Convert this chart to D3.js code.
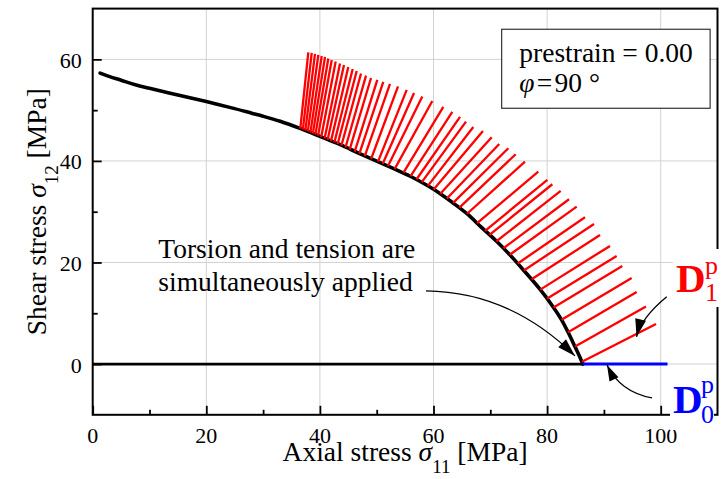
<!DOCTYPE html>
<html>
<head>
<meta charset="utf-8">
<script src="https://cdn.jsdelivr.net/npm/d3@7"></script>
<style>
  body { margin: 0; background: #fff; }
  svg { display: block; font-family: "Liberation Serif", "Times New Roman", serif; }
</style>
</head>
<body>
<svg id="chart" width="722" height="479"></svg>
<script>
const SERIF = '"Liberation Serif", "Times New Roman", serif';

// Axis ticks
const xMajor = [0, 20, 40, 60, 80, 100];
const xMinor = [10, 30, 50, 70, 90];
const yMajor = [0, 20, 40, 60];
const yMinor = [10, 30, 50];

// Yield curve under combined torsion and tension (sigma11, sigma12) [MPa]
const curveX = [1.3, 3, 5, 7.5, 10, 15, 20, 25, 28, 30, 33, 36.5, 40.0, 43.5, 47.0, 50.2, 53.2, 56.0, 59.0, 61.2, 63.4, 65.9, 68.4, 71.1, 73.4, 75.9, 78.8, 81.1, 82.5, 83.7, 84.9, 85.7, 86.3];
const curveY = [57.3, 56.6, 55.9, 55.0, 54.3, 53.0, 51.7, 50.3, 49.4, 48.8, 47.8, 46.4, 44.85, 43.25, 41.45, 39.87, 38.38, 36.93, 35.1, 33.55, 31.77, 29.6, 26.97, 24.17, 21.55, 18.43, 14.65, 11.2, 8.8, 6.25, 3.45, 1.55, 0.0];

// Pure tension loading path and the D0 direction
const tensionX = [0, 86.3];
const tensionY = [0, 0];
const d0X = [86.3, 101.2];
const d0Y = [0, 0];

// Plastic strain rate directions D1 (start on curve, end of segment)
const d1StartX = [36.55, 37.00, 37.43, 37.87, 38.33, 38.76, 39.21, 39.68, 40.23, 40.83, 41.36, 41.95, 42.55, 43.13, 43.79, 44.51, 45.25, 46.13, 46.95, 47.90, 49.03, 50.23, 51.06, 51.99, 53.17, 54.72, 55.97, 57.02, 57.94, 59.01, 60.02, 61.21, 62.36, 63.45, 64.56, 65.91, 67.68, 69.08, 69.86, 71.09, 72.32, 73.43, 74.84, 75.91, 77.27, 78.79, 80.02, 81.14, 82.54, 83.69, 84.92, 86.14];
const d1StartY = [46.38, 46.18, 45.98, 45.79, 45.57, 45.37, 45.17, 44.98, 44.72, 44.43, 44.19, 43.90, 43.62, 43.34, 43.03, 42.65, 42.28, 41.83, 41.43, 40.96, 40.43, 39.86, 39.46, 39.01, 38.44, 37.69, 37.00, 36.39, 35.82, 35.09, 34.36, 33.54, 32.61, 31.73, 30.80, 29.60, 27.75, 26.23, 25.42, 24.18, 22.80, 21.52, 19.81, 18.43, 16.68, 14.65, 12.91, 11.15, 8.72, 6.26, 3.43, 0.46];
const d1EndX = [37.96, 38.56, 39.14, 39.72, 40.32, 40.90, 41.48, 42.08, 42.78, 43.54, 44.24, 45.00, 45.77, 46.48, 47.24, 48.12, 49.00, 50.11, 51.16, 52.34, 53.75, 55.28, 56.57, 58.03, 59.79, 61.73, 63.31, 64.67, 65.72, 67.01, 68.71, 70.25, 71.58, 73.17, 74.47, 76.11, 78.45, 80.04, 80.92, 82.39, 83.86, 85.21, 86.67, 88.26, 89.31, 91.07, 92.25, 93.24, 94.89, 95.77, 97.41, 99.17];
const d1EndY = [61.40, 61.26, 61.07, 60.87, 60.67, 60.48, 60.18, 59.89, 59.59, 59.20, 58.90, 58.51, 58.11, 57.72, 57.23, 56.79, 56.34, 55.95, 55.55, 55.16, 54.67, 53.98, 53.39, 52.70, 51.81, 50.63, 49.65, 48.66, 47.74, 46.69, 45.90, 44.66, 43.34, 42.50, 41.32, 39.86, 37.89, 36.25, 35.41, 34.09, 32.45, 31.00, 28.91, 27.59, 25.42, 23.26, 21.29, 19.32, 16.96, 14.20, 11.34, 7.90];

// Annotation text and arrows (data coordinates: start, control, tip)
const noteLines = ["Torsion and tension are", "simultaneously applied"];
const noteX = 11.55;
const noteY = [20.93, 14.36];
const noteArrow = [[58.68, 14.40], [73.47, 14.20], [84.91, 1.60]];
const d1Arrow = [[101.06, 13.27], [96.53, 9.08], [95.74, 5.34]];
const d0Arrow = [[98.47, -6.68], [92.84, -5.48], [90.55, -0.18]];

// Condition box
const boxX = [72.0, 108.7];
const boxY = [65.93, 50.37];
const boxTextX = 75.1;
const boxTextY = [59.49, 53.49];

const svg = d3.select("#chart");
const x = d3.scaleLinear().domain([0, 110]).range([92.7, 717.5]);
const y = d3.scaleLinear().domain([-10, 70]).range([414.8, 8.6]);

// Grid
svg.append("g").selectAll("line").data(xMajor.filter(v => v > 0)).join("line")
  .attr("x1", d => x(d)).attr("x2", d => x(d))
  .attr("y1", y(-10)).attr("y2", y(70))
  .attr("stroke", "#d2d2d2").attr("stroke-width", 1);
svg.append("g").selectAll("line").data(yMajor).join("line")
  .attr("x1", x(0)).attr("x2", x(110))
  .attr("y1", d => y(d)).attr("y2", d => y(d))
  .attr("stroke", "#d2d2d2").attr("stroke-width", 1);

const line = d3.line().x(d => x(d[0])).y(d => y(d[1]));

// Tension path along sigma12 = 0
svg.append("path")
  .attr("d", line(tensionX.map((v, i) => [v, tensionY[i]])))
  .attr("fill", "none").attr("stroke", "#000").attr("stroke-width", 2.8);

// Yield curve
svg.append("path")
  .attr("d", d3.line().x(d => x(d[0])).y(d => y(d[1])).curve(d3.curveCatmullRom.alpha(0.5))(curveX.map((v, i) => [v, curveY[i]])))
  .attr("fill", "none").attr("stroke", "#000").attr("stroke-width", 3.6)
  .attr("stroke-linecap", "round").attr("stroke-linejoin", "round");

// D1 directions
svg.append("g").selectAll("line").data(d1StartX).join("line")
  .attr("x1", (d, i) => x(d1StartX[i])).attr("y1", (d, i) => y(d1StartY[i]))
  .attr("x2", (d, i) => x(d1EndX[i])).attr("y2", (d, i) => y(d1EndY[i]))
  .attr("stroke", "#ff0000").attr("stroke-width", 2.3);

// D0 direction
svg.append("path")
  .attr("d", line(d0X.map((v, i) => [v, d0Y[i]])))
  .attr("fill", "none").attr("stroke", "#0000ff").attr("stroke-width", 3);

// Frame
svg.append("rect")
  .attr("x", x(0)).attr("y", y(70))
  .attr("width", x(110) - x(0)).attr("height", y(-10) - y(70))
  .attr("fill", "none").attr("stroke", "#000").attr("stroke-width", 2);

// Inward tick marks from d3 axes, labels drawn separately
function tickMarks(g) {
  g.select(".domain").remove();
  g.selectAll(".tick text").remove();
  g.selectAll(".tick line").attr("stroke", "#000").attr("stroke-width", 1.8);
}
svg.append("g").attr("transform", `translate(0,${y(-10)})`)
  .call(d3.axisBottom(x).tickValues(xMajor).tickSize(-9)).call(tickMarks);
svg.append("g").attr("transform", `translate(0,${y(-10)})`)
  .call(d3.axisBottom(x).tickValues(xMinor).tickSize(-5)).call(tickMarks);
svg.append("g").attr("transform", `translate(${x(0)},0)`)
  .call(d3.axisLeft(y).tickValues(yMajor).tickSize(-9)).call(tickMarks);
svg.append("g").attr("transform", `translate(${x(0)},0)`)
  .call(d3.axisLeft(y).tickValues(yMinor).tickSize(-5)).call(tickMarks);

// Tick labels
svg.append("g").selectAll("text").data(xMajor).join("text")
  .attr("x", d => x(d)).attr("y", y(-10) + 28)
  .attr("text-anchor", "middle")
  .style("font-family", SERIF).style("font-size", "22px")
  .text(d => d);
svg.append("g").selectAll("text").data(yMajor).join("text")
  .attr("x", x(0) - 11).attr("y", d => y(d) + 8.5)
  .attr("text-anchor", "end")
  .style("font-family", SERIF).style("font-size", "22px")
  .text(d => d);

// Axis titles
const xt = svg.append("text")
  .attr("x", (x(0) + x(110)) / 2).attr("y", 461)
  .attr("text-anchor", "middle").style("font-size", "27.5px");
xt.append("tspan").text("Axial stress ");
xt.append("tspan").attr("font-style", "italic").text("σ");
xt.append("tspan").style("font-size", "19px").attr("dy", 12).text("11");
xt.append("tspan").attr("dy", -12).text(" [MPa]");

const yt = svg.append("text")
  .attr("transform", `translate(46,${(y(-10) + y(70)) / 2}) rotate(-90)`)
  .attr("text-anchor", "middle").style("font-size", "27.5px");
yt.append("tspan").text("Shear stress ");
yt.append("tspan").attr("font-style", "italic").text("σ");
yt.append("tspan").style("font-size", "19px").attr("dy", 12).text("12");
yt.append("tspan").attr("dy", -12).text(" [MPa]");

// Condition box
svg.append("rect")
  .attr("x", x(boxX[0])).attr("y", y(boxY[0]))
  .attr("width", x(boxX[1]) - x(boxX[0])).attr("height", y(boxY[1]) - y(boxY[0]))
  .attr("fill", "#fff").attr("stroke", "#333").attr("stroke-width", 1.2);
svg.append("text").attr("x", x(boxTextX)).attr("y", y(boxTextY[0]))
  .style("font-size", "27.5px").text("prestrain = 0.00");
const phi = svg.append("text").attr("x", x(boxTextX)).attr("y", y(boxTextY[1]))
  .style("font-size", "27.5px");
phi.append("tspan").attr("font-style", "italic").text("φ");
phi.append("tspan").text("\u200A=\u200A90 °");

// Note text
svg.append("g").selectAll("text").data(noteLines).join("text")
  .attr("x", x(noteX)).attr("y", (d, i) => y(noteY[i]))
  .style("font-size", "27.5px").text(d => d);

// Curved arrows with filled heads
function arrow(pts, headLen, headHalf) {
  const p = pts.map(d => [x(d[0]), y(d[1])]);
  const path = d3.path();
  path.moveTo(p[0][0], p[0][1]);
  path.quadraticCurveTo(p[1][0], p[1][1], p[2][0], p[2][1]);
  svg.append("path").attr("d", path.toString())
    .attr("fill", "none").attr("stroke", "#000").attr("stroke-width", 1.3);
  const dx = p[2][0] - p[1][0], dy = p[2][1] - p[1][1];
  const len = Math.hypot(dx, dy);
  const ux = dx / len, uy = dy / len;
  const bx = p[2][0] - ux * headLen, by = p[2][1] - uy * headLen;
  svg.append("path")
    .attr("d", `M${p[2][0]},${p[2][1]}L${bx - uy * headHalf},${by + ux * headHalf}L${bx + uy * headHalf},${by - ux * headHalf}Z`)
    .attr("fill", "#000");
}
arrow(noteArrow, 18, 5.5);
arrow(d1Arrow, 18, 5.5);
arrow(d0Arrow, 16, 5);

// Direction labels: bold D with stacked superscript p and index
function dLabel(dx, dBase, supX, supBase, subBase, sub, color, boxW, boxTop, boxH) {
  svg.append("rect").attr("x", x(dx) - 3).attr("y", boxTop)
    .attr("width", boxW).attr("height", boxH).attr("fill", "#fff");
  svg.append("text").attr("x", x(dx)).attr("y", y(dBase))
    .style("font-size", "41px").attr("font-weight", "bold").attr("fill", color).text("D");
  svg.append("text").attr("x", x(supX)).attr("y", y(supBase))
    .style("font-size", "26px").attr("fill", color).text("p");
  svg.append("text").attr("x", x(supX)).attr("y", y(subBase))
    .style("font-size", "26px").attr("fill", color).text(sub);
}
dLabel(102.69, 14.20, 107.8, 17.74, 12.33, "1", "#ff0000", 49, 249, 58);
dLabel(102.17, -9.63, 107.1, -5.70, -11.70, "0", "#0000ff", 44, 370, 60);
</script>
</body>
</html>
